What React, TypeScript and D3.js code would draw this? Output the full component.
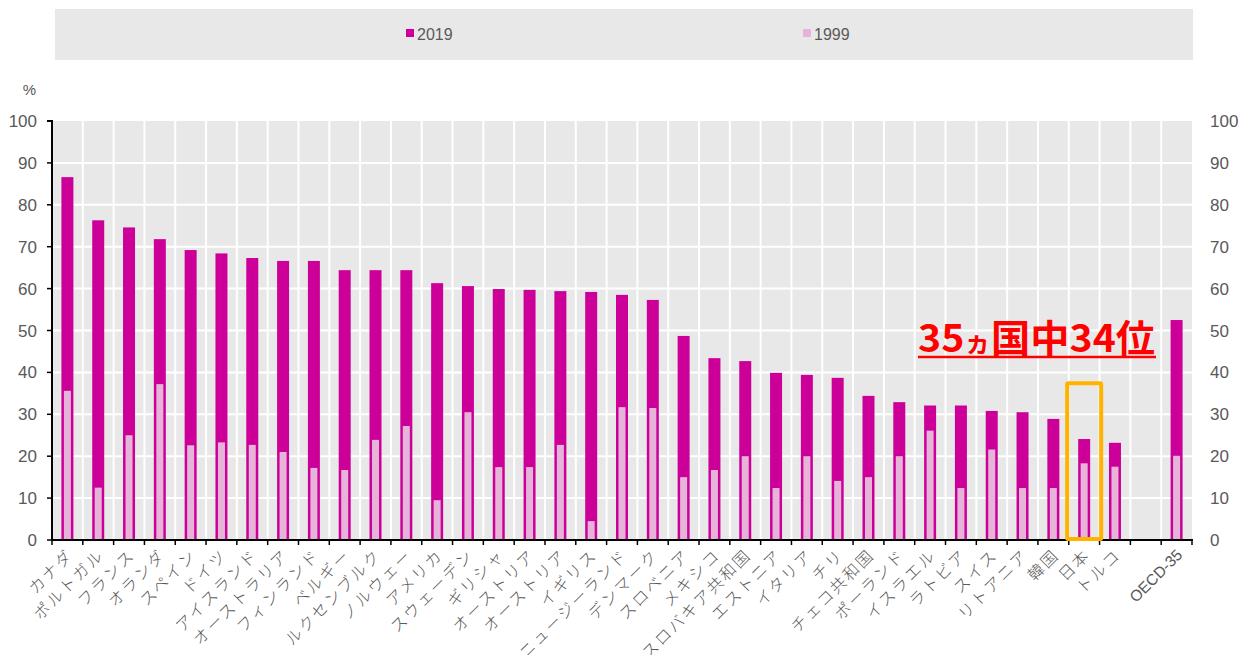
import React from "react";
import * as d3 from "d3";

const categories = [
  "カナダ", "ポルトガル", "フランス", "オランダ", "スペイン", "ドイツ", "アイスランド",
  "オーストラリア", "フィンランド", "ベルギー", "ルクセンブルク", "ノルウェー", "アメリカ",
  "スウェーデン", "ギリシャ", "オーストリア", "オーストリア", "イギリス", "ニュージーランド",
  "デンマーク", "スロベニア", "メキシコ", "スロバキア共和国", "エストニア", "イタリア", "チリ",
  "チェコ共和国", "ポーランド", "イスラエル", "ラトビア", "スイス", "リトアニア", "韓国",
  "日本", "トルコ", "", "OECD-35",
];
const values2019 = [
  86.6, 76.3, 74.6, 71.8, 69.2, 68.4, 67.3, 66.6, 66.6, 64.4, 64.4, 64.4, 61.3, 60.6, 59.9,
  59.7, 59.4, 59.2, 58.5, 57.3, 48.7, 43.4, 42.7, 39.9, 39.4, 38.7, 34.4, 32.9, 32.1, 32.1,
  30.8, 30.5, 28.9, 24.1, 23.2, null, 52.5,
];
const values1999 = [
  35.6, 12.5, 25.0, 37.2, 22.6, 23.3, 22.7, 21.0, 17.2, 16.7, 23.9, 27.2, 9.5, 30.5, 17.4,
  17.4, 22.7, 4.5, 31.7, 31.5, 15.0, 16.7, 20.0, 12.4, 20.0, 14.1, 15.0, 20.0, 26.1, 12.4,
  21.6, 12.4, 12.4, 18.3, 17.5, null, 20.1,
];
const yTicks = [0, 10, 20, 30, 40, 50, 60, 70, 80, 90, 100];
const legendLabels = ["2019", "1999"];
const highlightCategory = "日本";
const highlightTop = 37.4;
const annotationParts = ["35", "ヵ", "国中34位"];

const C2019 = "#CC0099";
const C1999 = "#E6B3D9";
const NUM_FONT = "'Liberation Sans Narrow', 'Arial Narrow', 'Liberation Sans', Arial, sans-serif";
const JP_FONT = "'Noto Sans CJK JP', sans-serif";

export default function App() {
  const W = 1247, H = 655;
  const left = 52, right = 1192, top = 121, bottom = 540;
  const x = d3.scaleBand<number>().domain(categories.map((_, i) => i)).range([left, right]).padding(0);
  const y = d3.scaleLinear().domain([0, 100]).range([bottom, top]);
  const bw = x.bandwidth();
  const w19 = 12, w99 = 7;
  const boundaries = d3.range(categories.length + 1).map((i) => left + i * bw);
  const hiIdx = categories.indexOf(highlightCategory);
  const hiCx = (x(hiIdx) as number) + bw / 2;

  return (
    <svg width={W} height={H} style={{ position: "absolute", left: 0, top: 0, background: "#fff" }}>
      {/* legend */}
      <rect x={55} y={9} width={1138} height={51} fill="#E8E8E8" />
      {legendLabels.map((lab, i) => {
        const lx = i === 0 ? 406 : 803;
        return (
          <g key={lab}>
            <rect x={lx} y={29} width={8} height={8} fill={i === 0 ? C2019 : C1999} />
            <text x={lx + 11} y={40} fontSize={16} fill="#595959" fontFamily={NUM_FONT}>{lab}</text>
          </g>
        );
      })}
      <text x={36} y={95} fontSize={15} fill="#595959" textAnchor="end" fontFamily={NUM_FONT}>%</text>

      {/* plot background */}
      <rect x={left} y={top} width={right - left} height={bottom - top} fill="#E8E8E8" />
      {yTicks.filter((t) => t > 0 && t < 100).map((t) => (
        <line key={"h" + t} x1={left} x2={right} y1={y(t)} y2={y(t)} stroke="#fff" strokeWidth={2} />
      ))}
      {boundaries.slice(1, -1).map((bx, i) => (
        <line key={"v" + i} x1={bx} x2={bx} y1={top} y2={bottom} stroke="#fff" strokeWidth={2} />
      ))}

      {/* bars */}
      {categories.map((c, i) => {
        const v = values2019[i];
        const u = values1999[i];
        if (v == null) return null;
        const cx = (x(i) as number) + bw / 2;
        return (
          <g key={"b" + i}>
            <rect x={cx - w19 / 2} y={y(v)} width={w19} height={bottom - y(v)} fill={C2019} />
            {u != null && (
              <rect x={cx - w99 / 2} y={y(u)} width={w99} height={bottom - y(u)} fill={C1999} />
            )}
          </g>
        );
      })}

      {/* axes */}
      <line x1={left} x2={left} y1={top - 1} y2={bottom} stroke="#000" strokeWidth={2} />
      <line x1={left - 5} x2={left} y1={top} y2={top} stroke="#000" strokeWidth={2} />
      {yTicks.map((t) => (
        <g key={"yt" + t}>
          <line x1={left - 5} x2={left} y1={y(t)} y2={y(t)} stroke="#000" strokeWidth={1.5} />
          <text x={37} y={y(t) + 6} fontSize={17} fill="#595959" textAnchor="end" fontFamily={NUM_FONT}>{t}</text>
          <text x={1210} y={y(t) + 6} fontSize={17} fill="#595959" textAnchor="start" fontFamily={NUM_FONT}>{t}</text>
        </g>
      ))}
      <line x1={left - 1} x2={right + 1} y1={bottom} y2={bottom} stroke="#000" strokeWidth={2} />
      {boundaries.map((bx, i) => (
        <line key={"xt" + i} x1={bx} x2={bx} y1={bottom} y2={bottom + 5} stroke="#000" strokeWidth={1.5} />
      ))}

      {/* x labels */}
      {categories.map((c, i) => {
        if (!c) return null;
        const cx = (x(i) as number) + bw / 2;
        const latin = /^[A-Za-z0-9-]+$/.test(c);
        return (
          <text
            key={"xl" + i}
            transform={`translate(${cx + 3},${bottom + 12}) rotate(-45)`}
            textAnchor="end"
            fontSize={latin ? 15.5 : 16}
            letterSpacing={latin ? 0 : 2.3}
            fontWeight={latin ? 400 : 300}
            fill="#595959"
            fontFamily={latin ? "'Liberation Sans', Arial, sans-serif" : JP_FONT}
            dy="0.35em"
          >
            {c}
          </text>
        );
      })}

      {/* highlight box */}
      <rect
        x={hiCx - 17}
        y={y(highlightTop)}
        width={34}
        height={bottom - y(highlightTop) - 1}
        fill="none"
        stroke="#FFB300"
        strokeWidth={4}
        rx={1}
      />

      {/* annotation */}
      <text x={918} y={352} fill="#FF0000" fontWeight="bold" fontFamily={JP_FONT} textLength={237} lengthAdjust="spacingAndGlyphs">
        <tspan fontSize={38}>{annotationParts[0]}</tspan>
        <tspan fontSize={26}>{annotationParts[1]}</tspan>
        <tspan fontSize={38}>{annotationParts[2]}</tspan>
      </text>
      <line x1={918} x2={1156} y1={357} y2={357} stroke="#FF0000" strokeWidth={2.5} />
    </svg>
  );
}
